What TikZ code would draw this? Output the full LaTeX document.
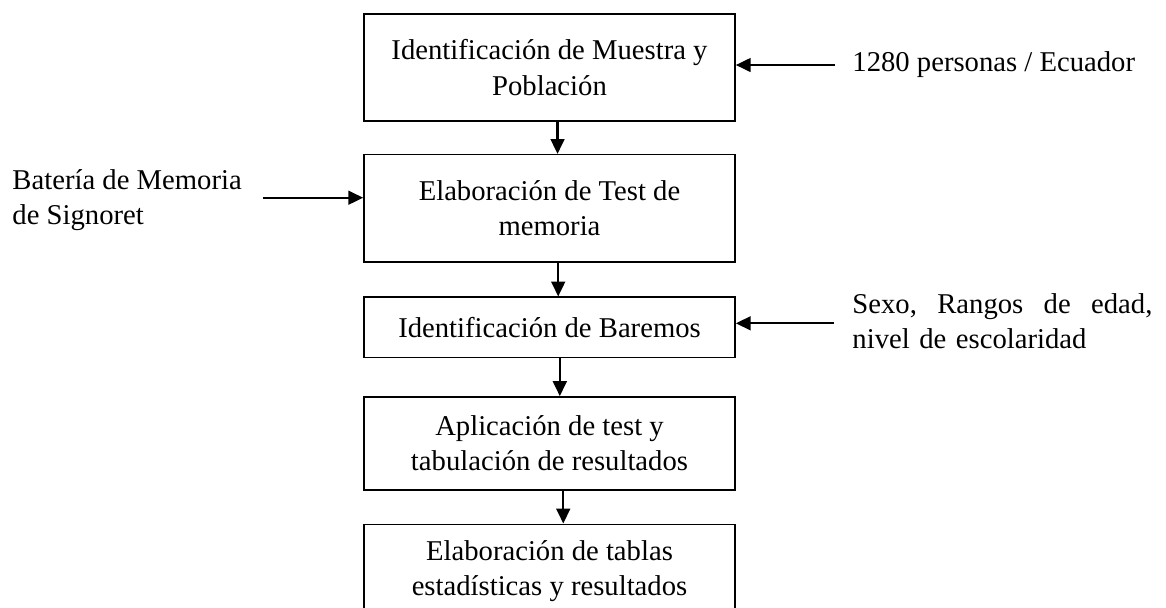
\documentclass[tikz,border=0pt]{standalone}
\usepackage{fontspec}
\setmainfont{Liberation Serif}
\usetikzlibrary{positioning,arrows.meta}

\begin{document}
\begin{tikzpicture}[x=0.436pt,y=-0.436pt,
  font=\fontsize{12.5}{15.3}\selectfont,
  paso/.style={draw,line width=0.65pt,minimum width=161.8pt,align=center,inner sep=2pt},
  flecha/.style={line width=1pt,-{Triangle[length=6.5pt,width=6pt]}},
  nota/.style={inner sep=0pt,anchor=west,align=left}]
  \clip (0,0) rectangle (1166,607);
  % pasos del proceso
  \node[paso,minimum height=46.7pt] (b1) at (549.5,67.5) {Identificación de Muestra y\\Población};
  \node[paso,minimum height=46.7pt,below=14pt of b1] (b2) {Elaboración de Test de\\memoria};
  \node[paso,minimum height=26.2pt,below=14.8pt of b2] (b3) {Identificación de Baremos};
  \node[paso,minimum height=40.5pt,below=16.6pt of b3] (b4) {Aplicación de test y\\tabulación de resultados};
  \node[paso,minimum height=40.5pt,below=14.4pt of b4] (b5) {Elaboración de tablas\\estadísticas y resultados};
  % entradas
  \node[nota] (bat) at (12,200) {Batería de Memoria\\de Signoret};
  \node[nota] (pob) at (852,65) {1280 personas / Ecuador};
  \node[nota,text width=130.8pt] (var) at (852,321) {Sexo,\hfill Rangos\hfill de\hfill edad,\\nivel de escolaridad};
  \coordinate (bat-e) at ([xshift=9pt,yshift=1pt]bat.east);
  \coordinate (pob-w) at ([xshift=-7.4pt]pob.west);
  \coordinate (var-w) at ([xshift=-8pt,yshift=-1pt]var.west);
  % flechas
  \draw[flecha] ([xshift=3.5pt]b1.south) -- ([xshift=3.5pt]b2.north);
  \draw[flecha] ([xshift=3.8pt]b2.south) -- ([xshift=3.8pt]b3.north);
  \draw[flecha] ([xshift=4.5pt]b3.south) -- ([xshift=4.5pt]b4.north);
  \draw[flecha] ([xshift=6pt]b4.south) -- ([xshift=6pt]b5.north);
  \draw[flecha] (bat-e) -- (b2.west |- bat-e);
  \draw[flecha] (pob-w) -- (b1.east |- pob-w);
  \draw[flecha] (var-w) -- (b3.east |- var-w);
\end{tikzpicture}
\end{document}
